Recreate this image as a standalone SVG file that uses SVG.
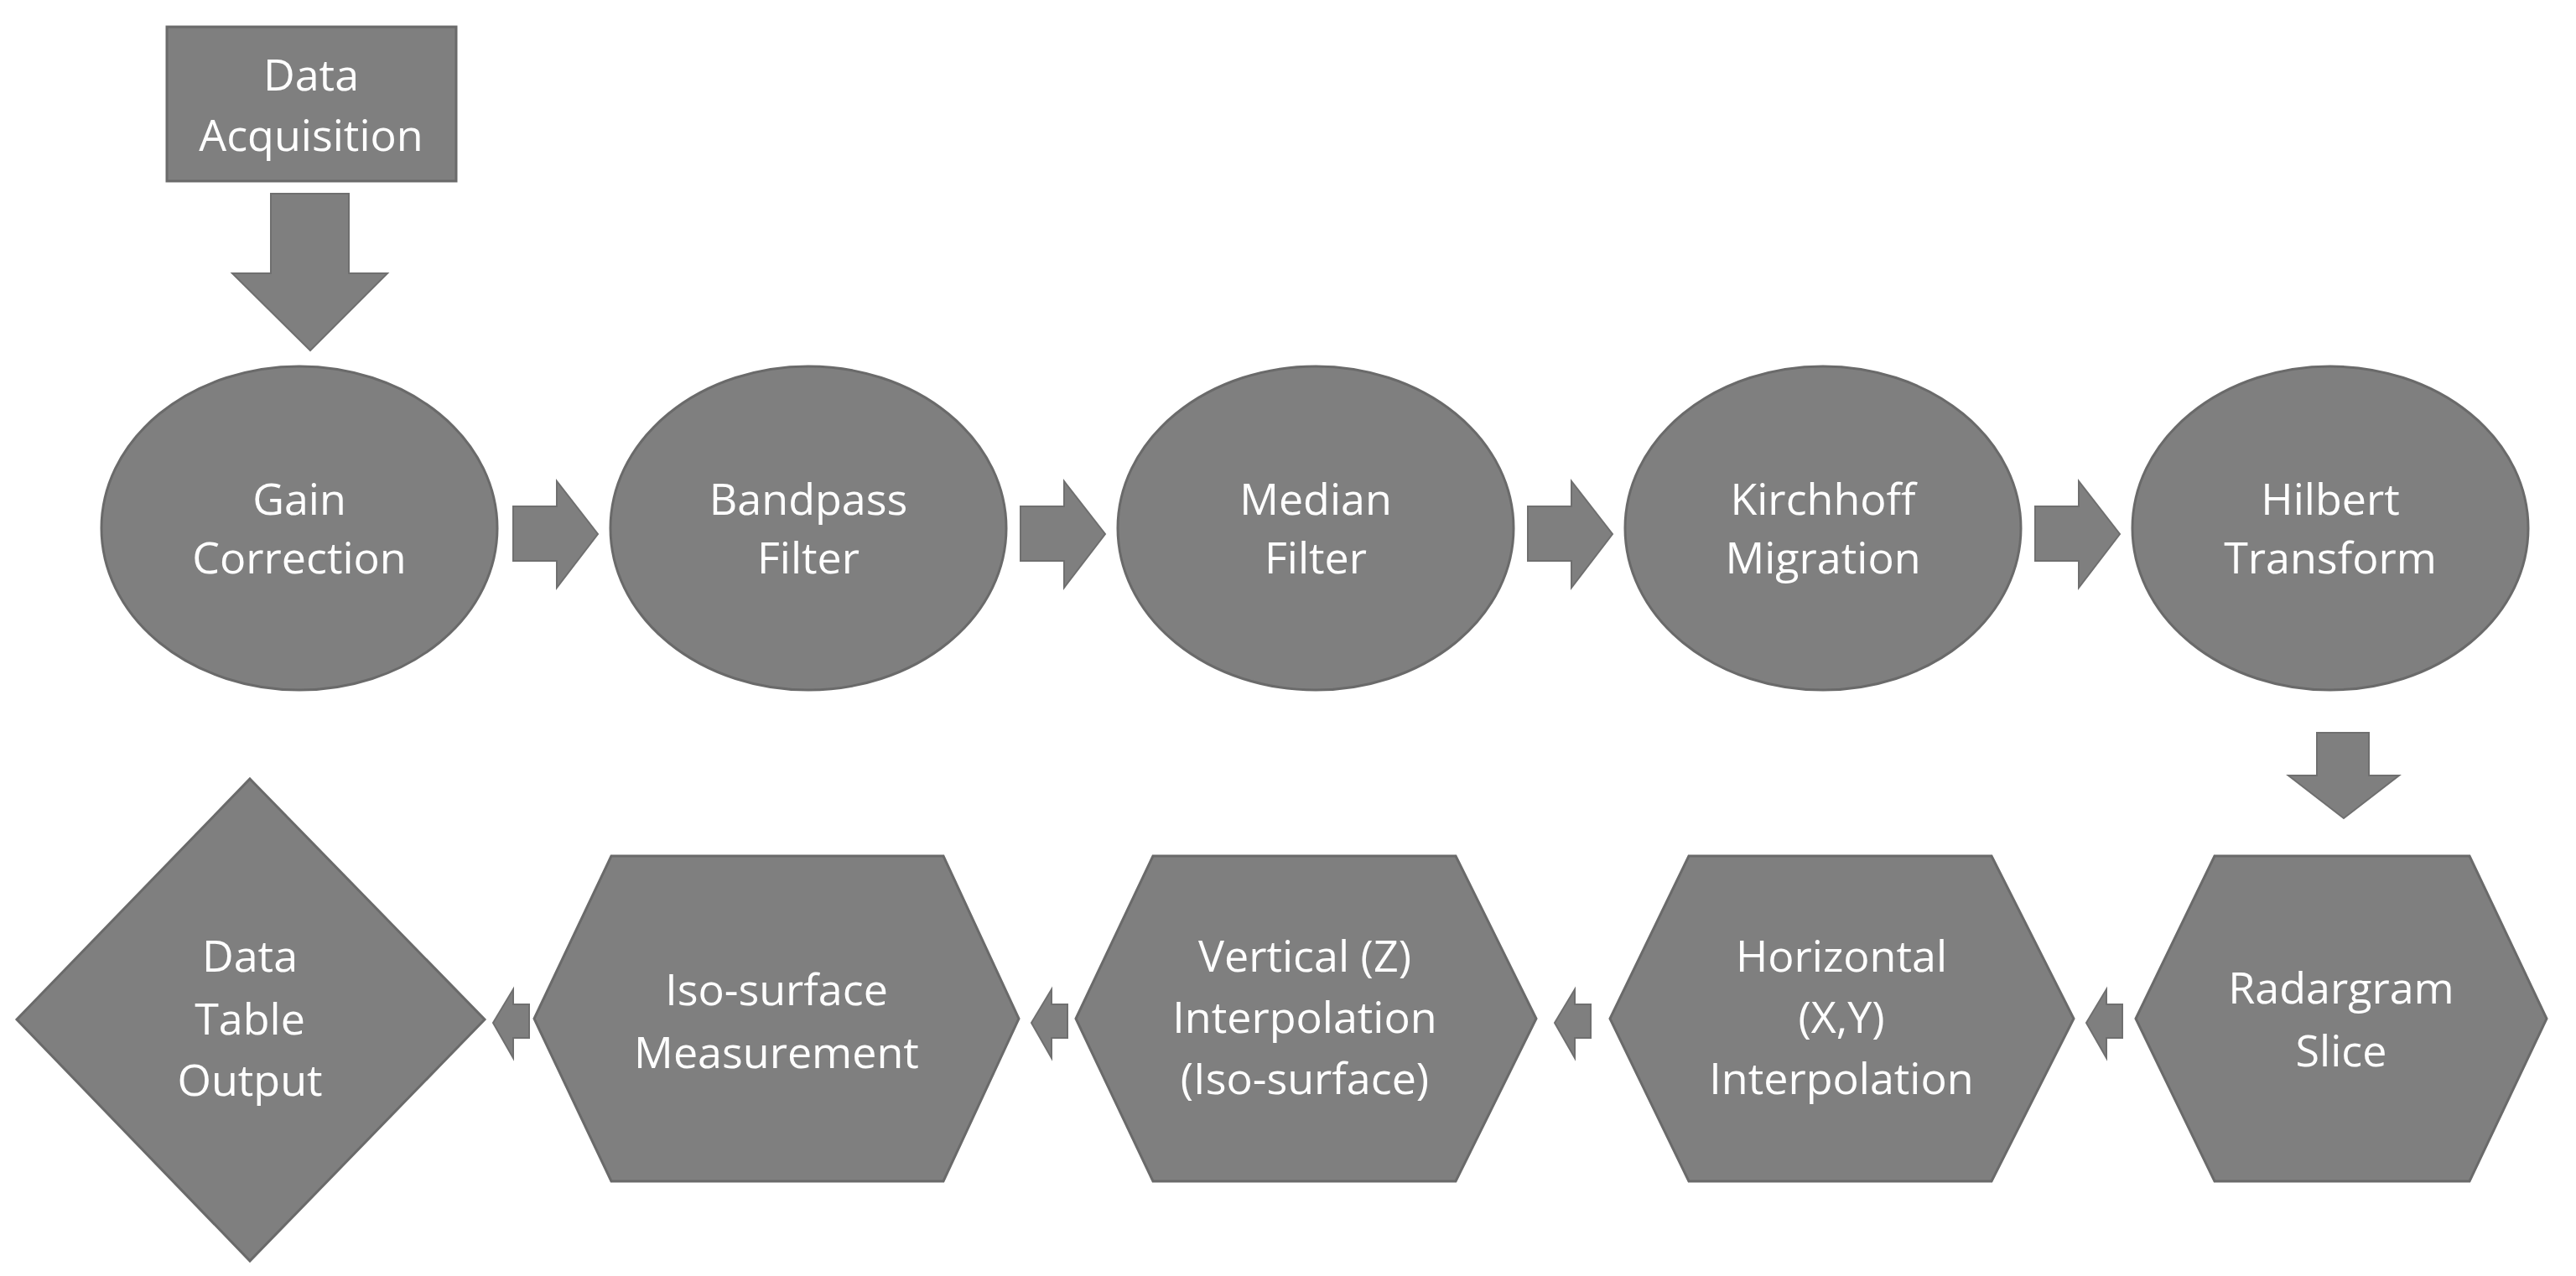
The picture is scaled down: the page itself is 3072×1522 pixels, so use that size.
<svg xmlns="http://www.w3.org/2000/svg" width="3072" height="1522" viewBox="0 0 3072 1522">
<style>
.s{fill:#7f7f7f;stroke:#6a6a6a;stroke-width:3}
.a{fill:#7f7f7f;stroke:#6f6f6f;stroke-width:2}
text{font-family:"Open Sans","Liberation Sans",sans-serif;font-size:52px;fill:#fff;text-anchor:middle}
</style>
<rect width="3072" height="1522" fill="#fff"/>
<g id="n0"><rect class="s" x="199" y="32" width="345" height="184"/><text x="371" y="108">Data</text><text x="371" y="180">Acquisition</text></g>
<g id="n1"><ellipse class="s" cx="357" cy="630" rx="236" ry="193"/><text x="357" y="614">Gain</text><text x="357" y="684">Correction</text></g>
<g id="n2"><ellipse class="s" cx="964" cy="630" rx="236" ry="193"/><text x="964" y="614">Bandpass</text><text x="964" y="684">Filter</text></g>
<g id="n3"><ellipse class="s" cx="1569" cy="630" rx="236" ry="193"/><text x="1569" y="614">Median</text><text x="1569" y="684">Filter</text></g>
<g id="n4"><ellipse class="s" cx="2174" cy="630" rx="236" ry="193"/><text x="2174" y="614">Kirchhoff</text><text x="2174" y="684">Migration</text></g>
<g id="n5"><ellipse class="s" cx="2779" cy="630" rx="236" ry="193"/><text x="2779" y="614">Hilbert</text><text x="2779" y="684">Transform</text></g>
<g id="n6"><polygon class="s" points="2641,1021 2945,1021 3037,1215 2945,1409 2641,1409 2547,1215"/><text x="2792" y="1197">Radargram</text><text x="2792" y="1272">Slice</text></g>
<g id="n7"><polygon class="s" points="2014,1021 2375,1021 2473,1215 2375,1409 2014,1409 1920,1215"/><text x="2196" y="1159">Horizontal</text><text x="2196" y="1232">(X,Y)</text><text x="2196" y="1305">Interpolation</text></g>
<g id="n8"><polygon class="s" points="1375,1021 1736,1021 1832,1215 1736,1409 1375,1409 1283,1215"/><text x="1556" y="1159">Vertical (Z)</text><text x="1556" y="1232">Interpolation</text><text x="1556" y="1305">(Iso-surface)</text></g>
<g id="n9"><polygon class="s" points="729,1021 1125,1021 1215,1215 1125,1409 729,1409 637,1215"/><text x="926" y="1199">Iso-surface</text><text x="926" y="1274">Measurement</text></g>
<g id="n10"><polygon class="s" points="298,929 578,1216 298,1504 20,1216"/><text x="298" y="1159">Data</text><text x="298" y="1234">Table</text><text x="298" y="1307">Output</text></g>
<g id="connectors">
<polygon class="a" points="323,231 416,231 416,326 462,326 370,418 277,326 323,326"/>
<g id="r1"><polygon class="a" points="612,604 664,604 664,574 713,637 664,701 664,669 612,669"/></g>
<use href="#r1" x="605"/><use href="#r1" x="1210"/><use href="#r1" x="1815"/>
<polygon class="a" points="2763,874 2825,874 2825,925 2861,925 2795,976 2729,925 2763,925"/>
<g id="l1"><polygon class="a" points="2531,1198 2512,1198 2512,1180 2488,1220 2512,1262 2512,1238 2531,1238"/></g>
<use href="#l1" x="-634"/><use href="#l1" x="-1258"/><use href="#l1" x="-1900"/>
</g>
</svg>
